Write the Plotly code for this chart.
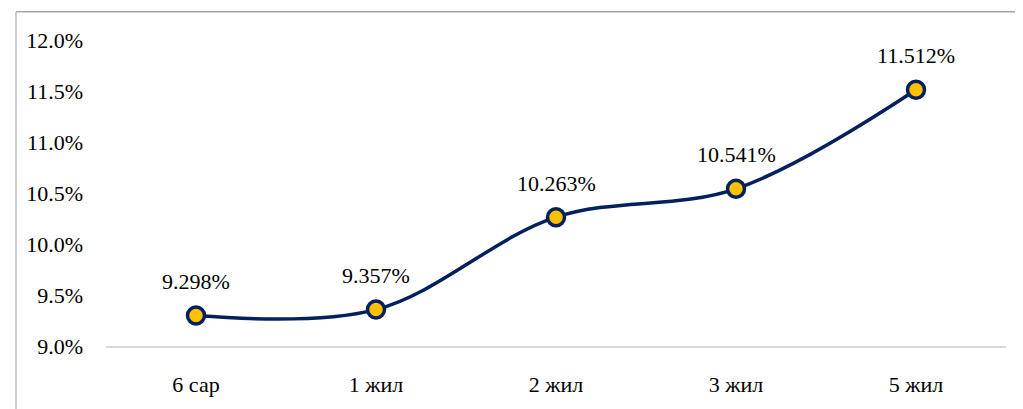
import plotly.graph_objects as go

categories = ["6 сар", "1 жил", "2 жил", "3 жил", "5 жил"]
values = [9.298, 9.357, 10.263, 10.541, 11.512]
y_ticks = [9.0, 9.5, 10.0, 10.5, 11.0, 11.5, 12.0]
y_tick_labels = [f"{v:.1f}%" for v in y_ticks]
value_labels = [f"{v:.3f}%" for v in values]

font = "Liberation Serif"
fsize = 22

fig = go.Figure()
fig.add_trace(go.Scatter(
    x=categories, y=values, mode="lines+markers",
    line=dict(color="#002060", width=3.5, shape="spline", smoothing=1),
    marker=dict(size=17, color="#FFC000", line=dict(color="#002060", width=3.5)),
    hoverinfo="skip", showlegend=False,
))

for c, v, t in zip(categories, values, value_labels):
    fig.add_annotation(x=c, y=v, text=t, showarrow=False, yshift=34,
                       font=dict(family=font, size=fsize, color="#000000"))

# page body has an 8px margin, so the figure is 8px smaller on each axis
fig.update_layout(
    width=1015, height=401,
    margin=dict(l=98, r=17, t=32, b=54),
    paper_bgcolor="white", plot_bgcolor="white",
    font=dict(family=font, size=fsize, color="#000000"),
    xaxis=dict(range=[-0.5, 4.5], showgrid=False, showline=True, linecolor="#d9d9d9",
               linewidth=2, ticks="", ticklabelstandoff=18, zeroline=False),
    yaxis=dict(range=[9.0, 12.0], tickvals=y_ticks, ticktext=y_tick_labels,
               showgrid=False, showline=False, zeroline=False, ticks="",
               ticklabelstandoff=22),
    shapes=[
        dict(type="line", xref="paper", yref="paper", x0=-0.1, x1=1.05,
             y0=1.092, y1=1.092, line=dict(color="#a6a6a6", width=1.5)),
        dict(type="line", xref="paper", yref="paper", x0=-0.1, x1=-0.1,
             y0=1.092, y1=-0.3, line=dict(color="#bfbfbf", width=1.5)),
    ],
)

fig.write_html("out.html")
